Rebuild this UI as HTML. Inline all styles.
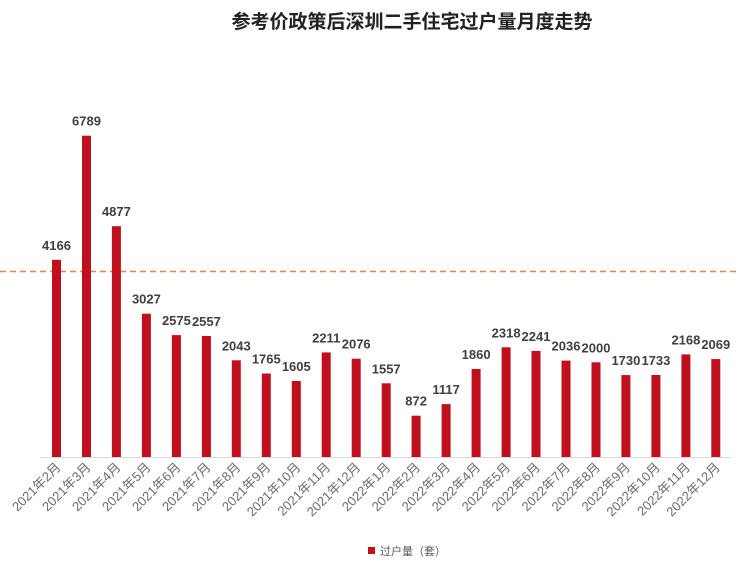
<!DOCTYPE html><html><head><meta charset="utf-8"><style>body{margin:0;background:#fff}svg{display:block}</style></head><body>
<svg width="740" height="570" xmlns="http://www.w3.org/2000/svg" font-family="'Liberation Sans','Noto Sans CJK SC',sans-serif">
<text x="412" y="28" text-anchor="middle" font-size="19" font-weight="bold" fill="#222">参考价政策后深圳二手住宅过户量月度走势</text>
<line x1="40" y1="457.5" x2="730" y2="457.5" stroke="#d9d9d9" stroke-width="1"/>
<line x1="0" y1="271.5" x2="740" y2="271.5" stroke="#e0884a" stroke-width="1.5" stroke-dasharray="6,4"/>
<g fill="#c0101e">
<rect x="52" y="259.8" width="9" height="197.2"/>
<rect x="82" y="135.7" width="9" height="321.3"/>
<rect x="111.9" y="226.2" width="9" height="230.8"/>
<rect x="141.9" y="313.7" width="9" height="143.3"/>
<rect x="171.9" y="335.1" width="9" height="121.9"/>
<rect x="201.9" y="336" width="9" height="121"/>
<rect x="231.8" y="360.3" width="9" height="96.7"/>
<rect x="261.8" y="373.5" width="9" height="83.5"/>
<rect x="291.8" y="381" width="9" height="76"/>
<rect x="321.7" y="352.4" width="9" height="104.6"/>
<rect x="351.7" y="358.7" width="9" height="98.3"/>
<rect x="381.7" y="383.3" width="9" height="73.7"/>
<rect x="411.6" y="415.7" width="9" height="41.3"/>
<rect x="441.6" y="404.1" width="9" height="52.9"/>
<rect x="471.6" y="369" width="9" height="88"/>
<rect x="501.6" y="347.3" width="9" height="109.7"/>
<rect x="531.5" y="350.9" width="9" height="106.1"/>
<rect x="561.5" y="360.6" width="9" height="96.4"/>
<rect x="591.5" y="362.3" width="9" height="94.7"/>
<rect x="621.4" y="375.1" width="9" height="81.9"/>
<rect x="651.4" y="375" width="9" height="82"/>
<rect x="681.4" y="354.4" width="9" height="102.6"/>
<rect x="711.3" y="359.1" width="9" height="97.9"/>
</g>
<g font-size="13" font-weight="bold" fill="#404040" text-anchor="middle">
<text x="56.5" y="249.8">4166</text>
<text x="86.5" y="125.7">6789</text>
<text x="116.4" y="216.2">4877</text>
<text x="146.4" y="303.7">3027</text>
<text x="176.4" y="325.1">2575</text>
<text x="206.4" y="326">2557</text>
<text x="236.3" y="350.3">2043</text>
<text x="266.3" y="363.5">1765</text>
<text x="296.3" y="371">1605</text>
<text x="326.2" y="342.4">2211</text>
<text x="356.2" y="348.7">2076</text>
<text x="386.2" y="373.3">1557</text>
<text x="416.1" y="405.7">872</text>
<text x="446.1" y="394.1">1117</text>
<text x="476.1" y="359">1860</text>
<text x="506.1" y="337.3">2318</text>
<text x="536" y="340.9">2241</text>
<text x="566" y="350.6">2036</text>
<text x="596" y="352.3">2000</text>
<text x="625.9" y="365.1">1730</text>
<text x="655.9" y="365">1733</text>
<text x="685.9" y="344.4">2168</text>
<text x="715.8" y="349.1">2069</text>
</g>
<g font-size="13" fill="#6b6b6b" text-anchor="end">
<text transform="translate(61.5,468) rotate(-45)">2021年2月</text>
<text transform="translate(91.5,468) rotate(-45)">2021年3月</text>
<text transform="translate(121.4,468) rotate(-45)">2021年4月</text>
<text transform="translate(151.4,468) rotate(-45)">2021年5月</text>
<text transform="translate(181.4,468) rotate(-45)">2021年6月</text>
<text transform="translate(211.4,468) rotate(-45)">2021年7月</text>
<text transform="translate(241.3,468) rotate(-45)">2021年8月</text>
<text transform="translate(271.3,468) rotate(-45)">2021年9月</text>
<text transform="translate(301.3,468) rotate(-45)">2021年10月</text>
<text transform="translate(331.2,468) rotate(-45)">2021年11月</text>
<text transform="translate(361.2,468) rotate(-45)">2021年12月</text>
<text transform="translate(391.2,468) rotate(-45)">2022年1月</text>
<text transform="translate(421.1,468) rotate(-45)">2022年2月</text>
<text transform="translate(451.1,468) rotate(-45)">2022年3月</text>
<text transform="translate(481.1,468) rotate(-45)">2022年4月</text>
<text transform="translate(511.1,468) rotate(-45)">2022年5月</text>
<text transform="translate(541,468) rotate(-45)">2022年6月</text>
<text transform="translate(571,468) rotate(-45)">2022年7月</text>
<text transform="translate(601,468) rotate(-45)">2022年8月</text>
<text transform="translate(630.9,468) rotate(-45)">2022年9月</text>
<text transform="translate(660.9,468) rotate(-45)">2022年10月</text>
<text transform="translate(690.9,468) rotate(-45)">2022年11月</text>
<text transform="translate(720.8,468) rotate(-45)">2022年12月</text>
</g>
<rect x="368" y="547" width="7" height="7" fill="#c0101e"/>
<text x="380" y="555" font-size="11" fill="#595959">过户量（套）</text>
</svg></body></html>
